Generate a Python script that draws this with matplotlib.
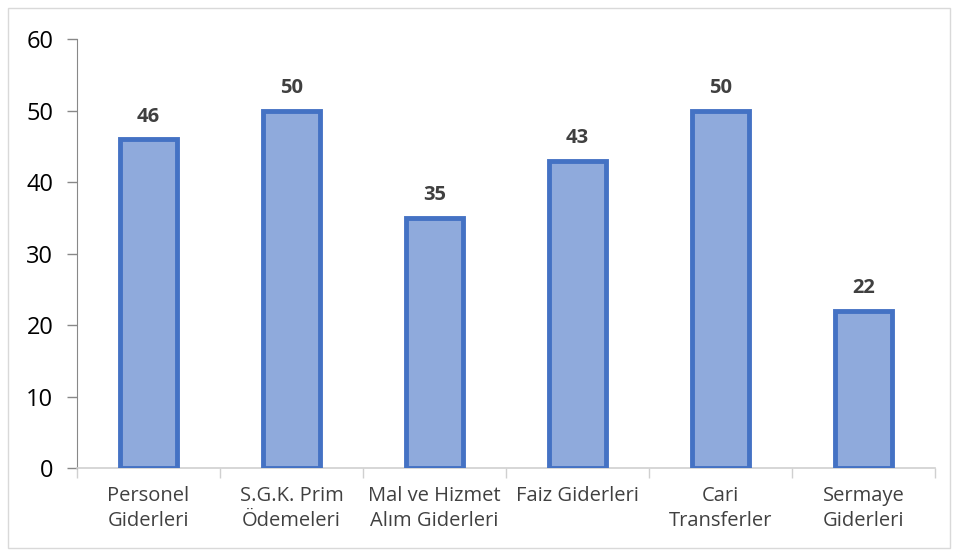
import numpy as np
import matplotlib.pyplot as plt
from matplotlib.patches import Rectangle

# data
categories = ["Personel\nGiderleri", "S.G.K. Prim\nÖdemeleri", "Mal ve Hizmet\nAlım Giderleri",
              "Faiz Giderleri", "Cari\nTransferler", "Sermaye\nGiderleri"]
values = [46, 50, 35, 43, 50, 22]
yticks = [0, 10, 20, 30, 40, 50, 60]

plt.rcParams['font.family'] = ['Open Sans', 'DejaVu Sans']

fig = plt.figure(figsize=(9.55, 5.54), dpi=100)
ax = fig.add_axes([77/955, 1-468/554, (935-77)/955, (468-39)/554])

x = np.arange(len(categories))
ax.bar(x, values, width=0.40, color='#8FAADC', edgecolor='#4472C4', linewidth=3.5, zorder=3)

for xi, v in zip(x, values):
    ax.annotate(str(v), (xi, v), xytext=(0, 9), textcoords='offset points',
                ha='center', va='bottom', fontsize=14.5, fontweight='bold', color='#404040')

ax.set_xlim(-0.5, len(categories) - 0.5)
ax.set_ylim(0, 60)
ax.set_yticks(yticks)
ax.tick_params(axis='y', labelsize=17, length=7, color='#888888', width=1, labelcolor='black', pad=10)

ax.set_xticks(x)
ax.set_xticklabels(categories, fontsize=14.5, color='#404040', linespacing=1.35)
ax.tick_params(axis='x', length=0, pad=13)
ax.set_xticks(np.arange(len(categories) + 1) - 0.5, minor=True)
ax.tick_params(axis='x', which='minor', length=7, color='#d0d0d0', width=1)

for s in ['top', 'right']:
    ax.spines[s].set_visible(False)
ax.spines['left'].set_color('#888888')
ax.spines['bottom'].set_color('#d0d0d0')
ax.spines['bottom'].set_linewidth(1.2)

# outer chart border
fig.patches.append(Rectangle((8/955, 6/554), 942/955, 540/554, transform=fig.transFigure,
                             fill=False, edgecolor='#d9d9d9', linewidth=1))

fig.savefig('out.png', dpi=100)
